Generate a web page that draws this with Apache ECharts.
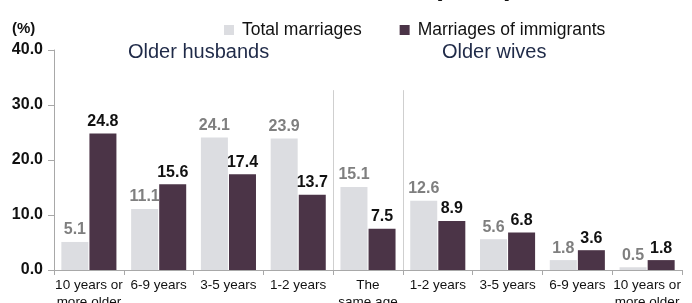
<!DOCTYPE html>
<html>
<head>
<meta charset="utf-8">
<script src="https://cdn.jsdelivr.net/npm/echarts@6/dist/echarts.min.js"></script>
<style>
    html, body { margin: 0; padding: 0; background: #fff; }
    #chart { width: 692px; height: 303px; }
</style>
</head>
<body>
<div id="chart"></div>
<script>
    // data
    var categories = ['10 years or\nmore older', '6-9 years', '3-5 years', '1-2 years', 'The\nsame age',
        '1-2 years', '3-5 years', '6-9 years', '10 years or\nmore older'];
    var totalMarriages = [5.1, 11.1, 24.1, 23.9, 15.1, 12.6, 5.6, 1.8, 0.5];
    var immigrantMarriages = [24.8, 15.6, 17.4, 13.7, 7.5, 8.9, 6.8, 3.6, 1.8];
    var seriesNames = ['Total marriages', 'Marriages of immigrants'];
    var groupLabels = ['Older husbands', 'Older wives'];

    var grayColor = '#dcdde1';
    var purpleColor = '#4b3447';
    var fontFamily = '"Liberation Sans", Arial, sans-serif';

    var myChart = echarts.init(document.getElementById('chart'));
    var option = {
        animation: false,
        textStyle: { fontFamily: fontFamily },
        grid: { left: 54, right: 10, top: 50, bottom: 33, containLabel: false, outerBoundsMode: 'none' },
        legend: {
            left: 224,
            top: 21,
            padding: 0,
            itemWidth: 10,
            itemHeight: 10,
            itemGap: 38,
            icon: 'rect',
            data: seriesNames,
            textStyle: { fontSize: 17.5, color: '#111', padding: [0, 0, 0, 3] }
        },
        xAxis: {
            type: 'category',
            data: categories,
            axisLine: { lineStyle: { color: '#a8a8a8' } },
            axisTick: { show: true, length: 5, lineStyle: { color: '#a8a8a8' } },
            axisLabel: {
                interval: 0,
                color: '#111',
                fontSize: 13.5,
                lineHeight: 17,
                margin: 7
            }
        },
        yAxis: {
            type: 'value',
            min: 0,
            max: 40,
            interval: 10,
            splitLine: { show: false },
            axisLine: { show: true, lineStyle: { color: '#a8a8a8' } },
            axisTick: { show: true, length: 6, lineStyle: { color: '#a8a8a8' } },
            axisLabel: {
                color: '#111',
                fontSize: 16,
                fontWeight: 'bold',
                margin: 11,
                formatter: function (value) {
                    return value.toFixed(1);
                }
            }
        },
        series: [
            {
                name: seriesNames[0],
                type: 'bar',
                data: totalMarriages,
                barWidth: 27,
                barGap: '4%',
                itemStyle: { color: grayColor },
                label: {
                    show: true,
                    position: 'top',
                    distance: 4,
                    color: '#7f7f7f',
                    fontSize: 16,
                    fontWeight: 'bold',
                    formatter: function (p) {
                        return p.value.toFixed(1);
                    }
                }
            },
            {
                name: seriesNames[1],
                type: 'bar',
                data: immigrantMarriages,
                barWidth: 27,
                barGap: '4%',
                itemStyle: { color: purpleColor },
                label: {
                    show: true,
                    position: 'top',
                    distance: 4,
                    color: '#111',
                    fontSize: 16,
                    fontWeight: 'bold',
                    formatter: function (p) {
                        return p.value.toFixed(1);
                    }
                }
            }
        ]
    };
    myChart.setOption(option);

    // separators around "The same age", placed from the axis scale
    var c3 = myChart.convertToPixel({ xAxisIndex: 0 }, 3);
    var c4 = myChart.convertToPixel({ xAxisIndex: 0 }, 4);
    var c5 = myChart.convertToPixel({ xAxisIndex: 0 }, 5);
    var yBase = myChart.convertToPixel({ yAxisIndex: 0 }, 0);
    var yTop = myChart.convertToPixel({ yAxisIndex: 0 }, 32.7);
    var sepLeft = Math.round((c3 + c4) / 2) + 0.5;
    var sepRight = Math.round((c4 + c5) / 2) + 0.5;

    myChart.setOption({
        graphic: [
            {
                type: 'text', left: 433, top: -27,
                style: { text: '(2022)', font: 'bold 28px ' + fontFamily, fill: '#111' }
            },
            {
                type: 'text', left: 12, top: 21,
                style: { text: '(%)', font: 'bold 15px ' + fontFamily, fill: '#111' }
            },
            {
                type: 'text', left: 128, top: 42,
                style: { text: groupLabels[0], font: '20px ' + fontFamily, fill: '#1f2a48' }
            },
            {
                type: 'text', left: 442, top: 42,
                style: { text: groupLabels[1], font: '20px ' + fontFamily, fill: '#1f2a48' }
            },
            {
                type: 'line',
                shape: { x1: sepLeft, y1: yTop, x2: sepLeft, y2: yBase + 5 },
                style: { stroke: '#cfcfcf', lineWidth: 1 }
            },
            {
                type: 'line',
                shape: { x1: sepRight, y1: yTop, x2: sepRight, y2: yBase + 5 },
                style: { stroke: '#cfcfcf', lineWidth: 1 }
            }
        ]
    });
</script>
</body>
</html>
